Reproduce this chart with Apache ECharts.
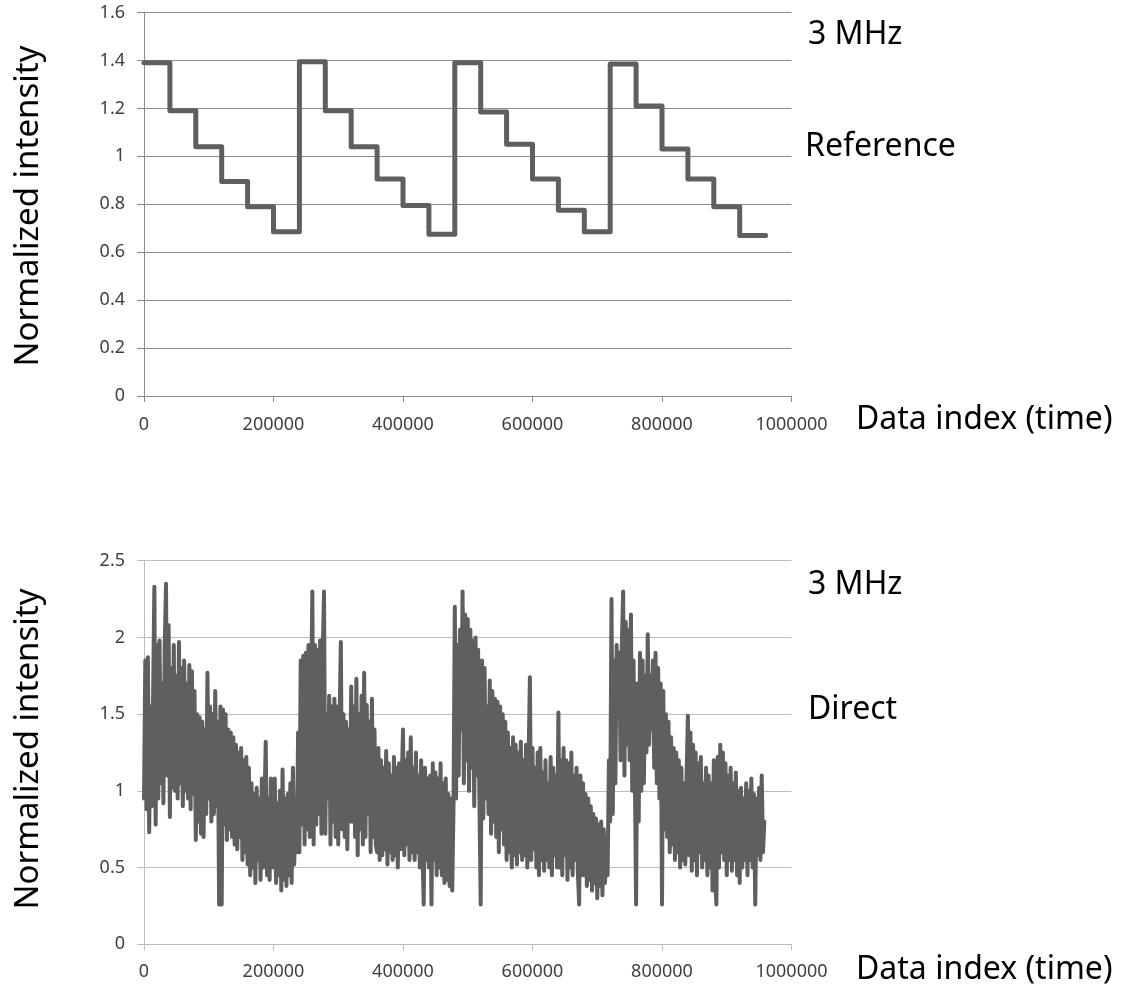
<!DOCTYPE html>
<html>
<head>
<meta charset="utf-8">
<script src="https://cdn.jsdelivr.net/npm/echarts@6/dist/echarts.min.js"></script>
<style>
html,body{margin:0;padding:0;background:#fff;}
#chart{width:1128px;height:987px;}
</style>
</head>
<body>
<div id="chart"></div>
<script>
// ---- Data ----
const xTicks = [0, 200000, 400000, 600000, 800000, 1000000];
const refYTicks = [0, 0.2, 0.4, 0.6, 0.8, 1, 1.2, 1.4, 1.6];
const directYTicks = [0, 0.5, 1, 1.5, 2, 2.5];

// Reference: step start positions and held values (last entry closes the final step)
const refStepStarts = [0, 40000, 80000, 120000, 160000, 200000,
  240000, 280000, 320000, 360000, 400000, 440000,
  480000, 520000, 560000, 600000, 640000, 680000,
  720000, 760000, 800000, 840000, 880000, 920000, 960000];
const refValues = [1.39, 1.19, 1.04, 0.895, 0.79, 0.685,
  1.395, 1.19, 1.04, 0.905, 0.795, 0.675,
  1.39, 1.185, 1.05, 0.905, 0.775, 0.685,
  1.385, 1.21, 1.03, 0.905, 0.79, 0.67, 0.67];

// Direct: samples every 2000 data indices (20 per row = 40000)
const directStep = 2000;
const directValues = [
  // 0 - 238000
  0.95, 1.85, 0.88, 1.87, 0.73, 1.55, 0.90, 1.60, 2.33, 0.78, 1.95, 0.95, 1.98, 1.05, 1.70, 0.92, 1.95, 2.35, 1.10, 2.08,
  0.83, 1.80, 1.02, 1.95, 1.00, 1.75, 0.95, 1.97, 1.05, 1.80, 0.90, 1.85, 1.00, 1.70, 0.95, 1.82, 0.88, 1.78, 0.98, 1.65,
  0.68, 1.50, 0.80, 1.48, 0.72, 1.45, 0.70, 1.40, 0.85, 1.77, 0.95, 1.55, 0.80, 1.50, 0.85, 1.65, 0.90, 1.45, 0.26, 1.55,
  0.26, 1.53, 0.78, 1.50, 0.68, 1.40, 0.75, 1.38, 0.70, 1.35, 0.65, 1.30, 0.62, 1.25, 0.70, 1.28, 0.55, 1.20, 0.60, 1.22,
  0.52, 1.15, 0.45, 1.05, 0.50, 0.98, 0.40, 1.02, 0.55, 0.95, 0.42, 1.08, 0.50, 0.90, 1.32, 0.45, 0.95, 0.42, 1.08, 0.55,
  0.50, 1.08, 0.40, 0.92, 0.45, 1.00, 0.35, 1.14, 0.42, 0.95, 0.38, 0.98, 0.45, 1.05, 0.40, 1.15, 0.52, 0.95, 0.60, 1.38,
  // 240000 - 478000
  0.60, 1.85, 0.78, 1.88, 0.65, 1.90, 0.75, 1.95, 0.70, 1.60, 2.30, 0.65, 1.95, 0.78, 1.92, 0.85, 1.98, 0.72, 1.88, 2.30,
  0.72, 1.50, 0.95, 1.62, 0.65, 1.55, 0.80, 1.60, 0.70, 1.55, 0.65, 1.45, 1.97, 0.75, 1.50, 0.70, 1.45, 0.62, 1.40, 0.80,
  1.68, 0.80, 1.55, 0.70, 1.73, 0.58, 1.50, 0.75, 1.62, 0.65, 1.77, 0.70, 1.56, 0.85, 1.45, 0.60, 1.60, 0.70, 1.40, 0.65,
  0.60, 1.28, 0.55, 1.20, 0.58, 1.15, 0.62, 1.26, 0.52, 1.18, 0.60, 1.10, 0.55, 1.22, 0.58, 1.15, 0.50, 1.18, 0.62, 1.05,
  1.40, 0.58, 1.20, 0.65, 1.25, 0.55, 1.35, 0.60, 1.15, 0.55, 1.25, 0.60, 1.10, 0.50, 1.20, 0.62, 0.26, 1.15, 0.55, 1.08,
  0.50, 1.10, 0.26, 1.18, 0.55, 1.12, 0.45, 1.08, 0.50, 1.18, 0.45, 1.05, 0.40, 1.08, 0.42, 0.98, 0.38, 0.95, 0.35, 0.90,
  // 480000 - 718000
  2.20, 0.95, 1.95, 1.10, 2.05, 1.40, 2.30, 1.05, 2.15, 1.20, 2.12, 1.00, 2.05, 1.15, 1.98, 0.90, 2.00, 1.10, 1.92, 0.95,
  0.26, 1.85, 0.82, 1.80, 0.95, 1.55, 0.85, 1.72, 0.72, 1.65, 0.80, 1.60, 0.70, 1.58, 0.60, 1.55, 0.75, 1.50, 0.65, 1.45,
  0.55, 1.38, 0.60, 1.28, 0.50, 1.35, 0.58, 1.30, 0.52, 1.25, 0.60, 1.32, 0.55, 1.20, 0.58, 1.30, 0.50, 1.22, 1.74, 0.55,
  1.28, 0.62, 1.15, 0.50, 1.25, 0.45, 1.28, 0.55, 1.12, 0.48, 1.20, 0.55, 1.05, 0.50, 1.22, 0.45, 1.15, 0.58, 1.10, 0.50,
  1.51, 0.50, 1.20, 0.45, 1.28, 0.58, 1.20, 0.42, 1.18, 0.50, 1.25, 0.45, 1.10, 0.55, 1.15, 0.48, 0.26, 1.10, 0.45, 1.05,
  0.45, 0.98, 0.38, 0.95, 0.42, 0.90, 0.35, 0.85, 0.40, 0.82, 0.30, 0.78, 0.38, 0.80, 0.32, 0.75, 0.40, 0.70, 0.45, 1.20,
  // 720000 - 958000
  0.80, 2.25, 0.85, 1.85, 1.05, 1.95, 1.55, 1.90, 1.20, 1.95, 2.30, 1.10, 2.10, 1.30, 2.05, 1.20, 2.15, 1.00, 1.85, 1.15,
  0.26, 1.70, 0.80, 1.90, 1.00, 1.85, 1.05, 1.75, 1.25, 2.02, 1.30, 1.75, 1.40, 1.85, 1.15, 1.90, 1.05, 1.80, 0.95, 1.70,
  0.26, 1.65, 0.75, 1.50, 0.70, 1.45, 0.60, 1.35, 0.65, 1.28, 0.55, 1.25, 0.60, 1.20, 0.50, 1.15, 0.55, 1.05, 0.52, 1.10,
  1.49, 0.58, 1.38, 0.48, 1.30, 0.55, 1.25, 0.45, 1.18, 0.60, 1.22, 0.50, 1.05, 0.55, 1.15, 0.45, 1.10, 0.50, 1.05, 0.35,
  1.20, 0.45, 0.26, 1.22, 0.50, 1.30, 0.60, 1.25, 0.55, 1.18, 0.45, 1.10, 0.55, 1.15, 0.48, 1.05, 0.55, 1.12, 0.45, 1.00,
  0.40, 1.02, 0.50, 0.95, 0.55, 1.05, 0.45, 1.00, 0.55, 1.08, 0.50, 0.98, 0.26, 0.95, 0.58, 1.02, 0.55, 1.10, 0.60, 0.80
];

// ---- Chart ----
const FONT = '"Noto Sans", "Open Sans", sans-serif';
const chart = echarts.init(document.getElementById('chart'), null, {renderer: 'canvas'});

function xAxisCfg(gridIndex, lineColor, margin) {
  return {
    type: 'value', gridIndex,
    min: xTicks[0], max: xTicks[xTicks.length - 1],
    interval: xTicks[1] - xTicks[0],
    axisLine: {show: true, lineStyle: {color: lineColor, width: 1}},
    axisTick: {show: true, length: 6, lineStyle: {color: lineColor}},
    axisLabel: {color: '#404040', fontFamily: FONT, fontSize: 18, margin: margin,
      formatter: v => String(v)},
    splitLine: {show: false}
  };
}
function yAxisCfg(gridIndex, ticks, lineColor) {
  return {
    type: 'value', gridIndex,
    min: ticks[0], max: ticks[ticks.length - 1],
    interval: ticks[1] - ticks[0],
    axisLine: {show: true, lineStyle: {color: lineColor, width: 1}},
    axisTick: {show: true, length: 7, lineStyle: {color: lineColor}},
    axisLabel: {color: '#404040', fontFamily: FONT, fontSize: 18, margin: 19},
    splitLine: {show: true, lineStyle: {color: lineColor, width: 1}}
  };
}

const bigText = (text, x, y) => ({
  type: 'text', x, y,
  style: {text, fill: '#000', font: '32px ' + FONT, align: 'left', verticalAlign: 'middle'}
});
const yName = (y) => ({
  type: 'text', x: 29, y, rotation: Math.PI / 2,
  style: {text: 'Normalized intensity', fill: '#000', font: '33px ' + FONT, align: 'center', verticalAlign: 'middle'}
});

chart.setOption({
  animation: false,
  backgroundColor: '#ffffff',
  grid: [
    {left: 144, top: 12.5, width: 647.5, height: 383.5},
    {left: 144, top: 560.7, width: 647.5, height: 383.6}
  ],
  xAxis: [xAxisCfg(0, '#8c8c8c', 20), xAxisCfg(1, '#bdbdbd', 19)],
  yAxis: [yAxisCfg(0, refYTicks, '#8c8c8c'), yAxisCfg(1, directYTicks, '#bdbdbd')],
  series: [
    {
      type: 'line', xAxisIndex: 0, yAxisIndex: 0,
      step: 'end', showSymbol: false, silent: true,
      lineStyle: {color: '#5f5f5f', width: 5, cap: 'round', join: 'round'},
      data: refStepStarts.map((x, i) => [x, refValues[i]])
    },
    {
      type: 'line', xAxisIndex: 1, yAxisIndex: 1,
      showSymbol: false, silent: true, sampling: undefined,
      lineStyle: {color: '#5f5f5f', width: 4, cap: 'round', join: 'round'},
      data: directValues.map((v, i) => [i * directStep, v])
    }
  ],
  graphic: [
    yName(206),
    yName(749),
    bigText('3 MHz', 808, 35),
    bigText('Reference', 805, 147),
    bigText('Data index (time)', 856, 420),
    bigText('3 MHz', 808, 585),
    bigText('Direct', 808, 710),
    bigText('Data index (time)', 856, 970)
  ]
});
</script>
</body>
</html>
